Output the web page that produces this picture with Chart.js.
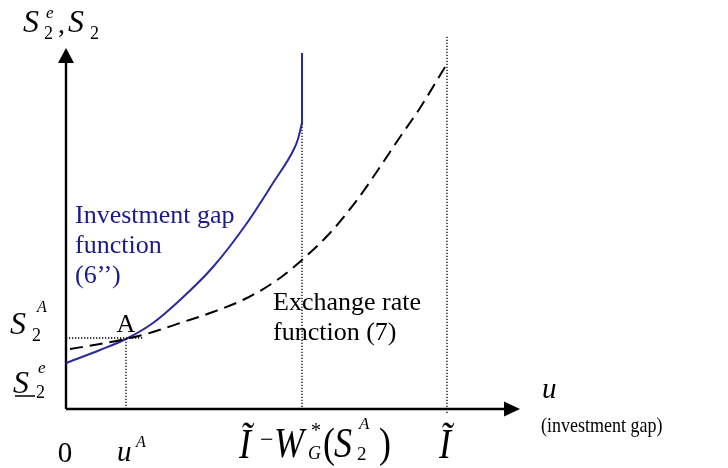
<!DOCTYPE html>
<html>
<head>
<meta charset="utf-8">
<script src="https://cdn.jsdelivr.net/npm/chart.js@4/dist/chart.umd.min.js"></script>
<style>
  html, body { margin: 0; padding: 0; background: #fff; }
  canvas { display: block; }
</style>
</head>
<body>
<canvas id="chart" width="728" height="468"></canvas>
<script>
// investment gap function (6'') - solid blue
const uInvest = [0, 34, 60, 87, 114, 147, 181, 207, 228, 232, 236];
const sInvest = [46, 59, 70, 86, 109, 142, 186, 226, 260, 270, 286];
// vertical part of (6'') at u = I~ - W*G(S2A)
const uWall = [236, 236];
const sWall = [286, 356];

// exchange rate function (7) - dashed black
const uRate = [4, 34, 60, 87, 114, 147, 181, 214, 237, 264, 291, 314, 332, 354, 382];
const sRate = [60, 65, 70, 77, 86, 97, 111, 131, 150, 176, 209, 242, 269, 301, 347];

// key values on the axes
const uA = 60;       // u^A
const uGap = 236;    // I~ - W*G(S2A)
const uMax = 381;    // I~
const sA = 71;       // S2^A
const uArrow = 454;
const sArrow = 361;

const BLUE = '#2a2a9c';
const NAVY = '#1a1a88';
const SERIF = '"Liberation Serif", "Times New Roman", serif';

function pts(xs, ys) {
    return xs.map((u, i) => ({ x: u, y: ys[i] }));
}

function guide(xs, ys) {
    return {
        data: pts(xs, ys),
        borderColor: '#000',
        borderWidth: 1.3,
        borderDash: [1.3, 1.7],
        pointRadius: 0,
        showLine: true,
        clip: false
    };
}

// text helper: italic / size / optional vertical stretch
function put(ctx, t, x, yb, size, opt) {
    opt = opt || {};
    ctx.save();
    ctx.font = (opt.italic ? 'italic ' : '') + size + 'px ' + SERIF;
    ctx.fillStyle = opt.color || '#000';
    ctx.textBaseline = 'alphabetic';
    ctx.textAlign = opt.align || 'left';
    ctx.translate(x, yb);
    ctx.scale(1, opt.stretch || 1);
    ctx.fillText(t, 0, 0);
    ctx.restore();
}

const axesPlugin = {
    id: 'axes',
    beforeDatasetsDraw(chart) {
        const ctx = chart.ctx;
        const x = chart.scales.x, y = chart.scales.y;
        const x0 = x.getPixelForValue(0), y0 = y.getPixelForValue(0);
        const xt = x.getPixelForValue(uArrow), yt = y.getPixelForValue(sArrow);
        ctx.save();
        ctx.strokeStyle = '#000';
        ctx.fillStyle = '#000';
        ctx.lineWidth = 2.4;
        ctx.beginPath();
        ctx.moveTo(x0, y0);
        ctx.lineTo(xt - 12, y0);
        ctx.moveTo(x0, y0);
        ctx.lineTo(x0, yt + 12);
        ctx.stroke();
        // arrow heads
        ctx.beginPath();
        ctx.moveTo(xt, y0);
        ctx.lineTo(xt - 16, y0 - 7.5);
        ctx.lineTo(xt - 16, y0 + 7.5);
        ctx.closePath();
        ctx.fill();
        ctx.beginPath();
        ctx.moveTo(x0, yt);
        ctx.lineTo(x0 - 8, yt + 15);
        ctx.lineTo(x0 + 8, yt + 15);
        ctx.closePath();
        ctx.fill();
        ctx.restore();
    },
    afterDraw(chart) {
        const ctx = chart.ctx;
        const x = chart.scales.x, y = chart.scales.y;
        const px = v => x.getPixelForValue(v);
        const py = v => y.getPixelForValue(v);

        // y axis title
        put(ctx, 'S', 23, 32, 32, { italic: true });
        put(ctx, 'e', 46, 18, 17, { italic: true });
        put(ctx, '2', 44, 39, 18);
        put(ctx, ',', 58, 33, 28);
        put(ctx, 'S', 68, 32, 32, { italic: true });
        put(ctx, '2', 90, 39, 18);

        // S2^A
        const ya = py(sA);
        put(ctx, 'S', 10, ya - 4, 32, { italic: true });
        put(ctx, 'A', 37, ya - 26, 16, { italic: true });
        put(ctx, '2', 32, ya + 3, 18);

        // underlined S2^e
        const ye = py(sInvest[0]);
        put(ctx, 'S', 13, ye + 30, 32, { italic: true });
        put(ctx, 'e', 38, ye + 10, 17, { italic: true });
        put(ctx, '2', 36, ye + 35, 18);
        ctx.save();
        ctx.strokeStyle = '#000';
        ctx.lineWidth = 1.5;
        ctx.beginPath();
        ctx.moveTo(15, ye + 33);
        ctx.lineTo(35, ye + 33);
        ctx.stroke();
        ctx.restore();

        // x axis labels
        const xb = py(0) + 53;
        put(ctx, '0', px(0) - 1, xb, 29, { align: 'center' });
        put(ctx, 'u', px(uA) - 9, xb - 1, 29, { italic: true });
        put(ctx, 'A', px(uA) + 10, xb - 15, 16, { italic: true });

        // I~ - W*_G(S_2^A)
        const g = px(uGap);
        const eb = py(0) + 49;
        const big = 36, st = 1.17;
        put(ctx, 'Ĩ', g - 63, eb, big, { italic: true, stretch: st });
        put(ctx, '−', g - 42, eb - 11, 24);
        put(ctx, 'W', g - 28, eb - 1, big, { italic: true, stretch: st });
        put(ctx, '*', g + 9, eb - 21, 20);
        put(ctx, 'G', g + 6, eb + 1, 18, { italic: true });
        put(ctx, '(', g + 21, eb - 1, big, { stretch: st });
        put(ctx, 'S', g + 32, eb - 1, big, { italic: true, stretch: st });
        put(ctx, 'A', g + 57, eb - 29, 17, { italic: true });
        put(ctx, '2', g + 55, eb + 2, 19);
        put(ctx, ')', g + 77, eb - 1, big, { stretch: st });

        put(ctx, 'Ĩ', px(uMax) - 8, eb, big, { italic: true, stretch: st });

        put(ctx, 'u', px(uArrow) + 22, py(0) - 11, 29, { italic: true });
        put(ctx, '(investment gap)', px(uArrow) + 21, py(0) + 23, 18, { stretch: 1.15 });

        // curve labels
        put(ctx, 'Investment gap', 75, 223, 26, { color: NAVY });
        put(ctx, 'function', 75, 253, 26, { color: NAVY });
        put(ctx, '(6\u2019\u2019)', 75, 283, 26, { color: NAVY });

        put(ctx, 'Exchange rate', 273, 310, 26);
        put(ctx, 'function (7)', 273, 340, 26);

        put(ctx, 'A', px(uA), py(sA) - 6, 26, { align: 'center' });
    }
};

new Chart(document.getElementById('chart').getContext('2d'), {
    type: 'scatter',
    data: {
        datasets: [
            guide([0, uA + 17], [sA, sA]),
            guide([uA, uA], [0, sA]),
            guide([uGap, uGap], [-1, sInvest[sInvest.length - 1]]),
            guide([uMax, uMax], [-4, 374]),
            {
                label: 'Exchange rate function (7)',
                data: pts(uRate, sRate),
                borderColor: '#000',
                borderWidth: 2,
                borderDash: [13, 7],
                cubicInterpolationMode: 'monotone',
                pointRadius: 0,
                showLine: true,
                clip: false
            },
            {
                label: 'Investment gap function (6\'\')',
                data: pts(uInvest, sInvest),
                borderColor: BLUE,
                borderWidth: 2,
                cubicInterpolationMode: 'monotone',
                pointRadius: 0,
                showLine: true,
                clip: false
            },
            {
                data: pts(uWall, sWall),
                borderColor: BLUE,
                borderWidth: 2,
                pointRadius: 0,
                showLine: true,
                clip: false
            }
        ]
    },
    plugins: [axesPlugin],
    options: {
        responsive: false,
        animation: false,
        layout: { padding: { left: 66, right: 0, top: 0, bottom: 59 } },
        plugins: {
            legend: { display: false },
            tooltip: { enabled: false }
        },
        scales: {
            x: { type: 'linear', min: 0, max: 662, display: false },
            y: { type: 'linear', min: 0, max: 409, display: false }
        }
    }
});
</script>
</body>
</html>
